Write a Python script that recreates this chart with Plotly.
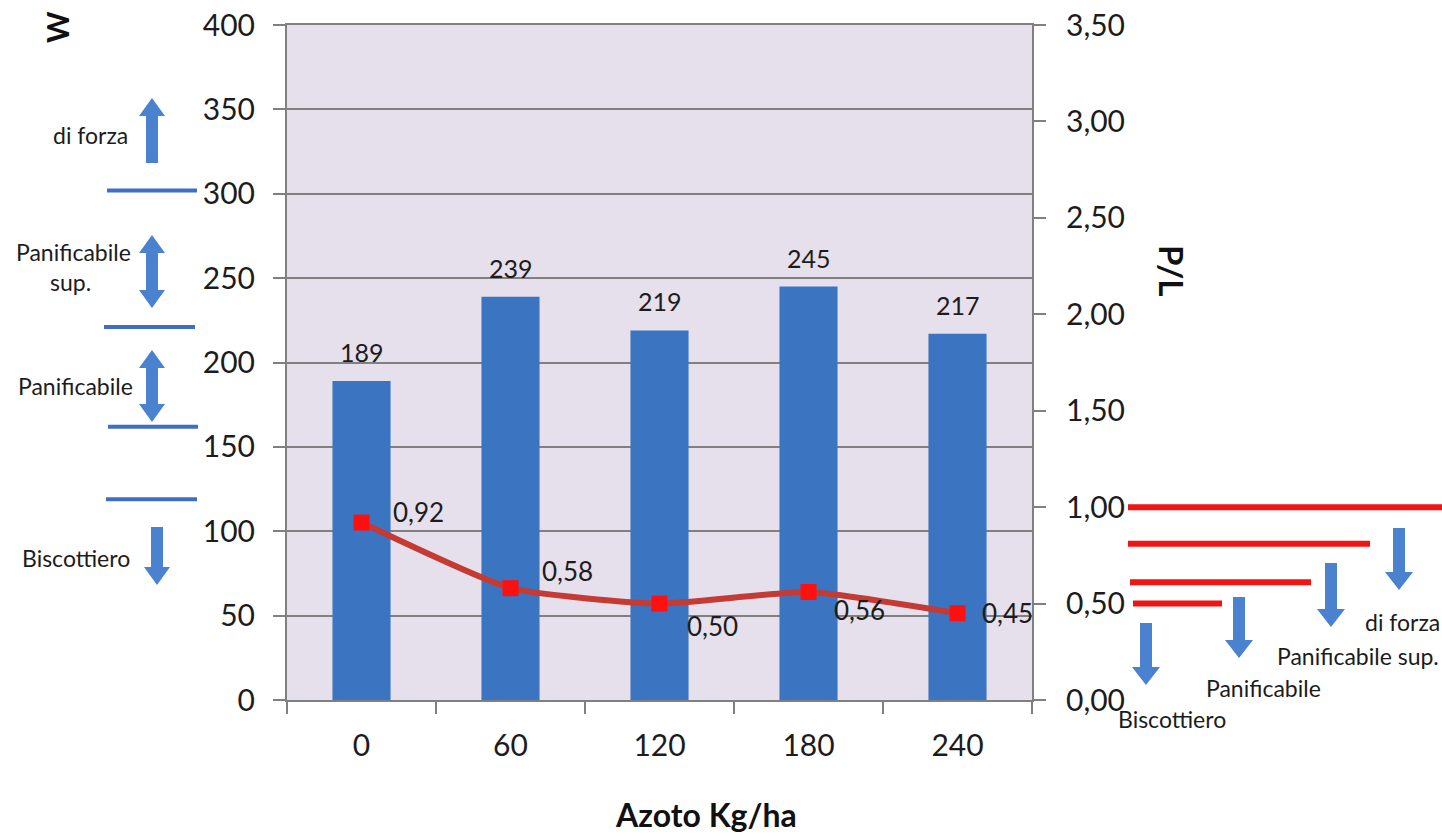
import plotly.graph_objects as go

# ---- data -------------------------------------------------------------
nitrogen = ["0", "60", "120", "180", "240"]          # Azoto Kg/ha
w_values = [189, 239, 219, 245, 217]                  # W (bars, left axis)
pl_values = [0.92, 0.58, 0.50, 0.56, 0.45]            # P/L (line, right axis)
w_ticks = [0, 50, 100, 150, 200, 250, 300, 350, 400]
pl_ticks = [0.0, 0.5, 1.0, 1.5, 2.0, 2.5, 3.0, 3.5]

# W class limits (left scale) and P/L class limits (right scale)
w_limits = [302, 221, 162, 119]
pl_limits = [1.0, 0.81, 0.61, 0.50]

# ---- styling ----------------------------------------------------------
FONT = "Lato, 'Open Sans', sans-serif"
TXT = "#1c1c1c"
AX = "#808080"
BAR = "#3B75C2"
ARROW = "#4A82D0"
LIMIT_BLUE = "#3F6EC4"
LIMIT_RED = "#F01414"

# pixel offsets of the P/L value labels from their markers
pl_dx = [57, 57, 53, 51, 50]
pl_dy = [11, 17, -22, -18, 0]

# plot-area geometry in pixels (used for the side decorations)
L, R, T, B = 287, 1032, 25, 700
PW, PH = R - L, B - T


def px(x):
    return (x - L) / PW


def py(y):
    return (B - y) / PH


def path(points):
    return "M " + " L ".join(f"{px(x):.5f},{py(y):.5f}" for x, y in points) + " Z"


def block_arrow(xc, y_from, y_to, double=False, shaft=12, head=26, hlen=18):
    s, h = shaft / 2, head / 2
    sign = 1 if y_to > y_from else -1
    neck2 = y_to - sign * hlen
    if not double:
        pts = [(xc - s, y_from), (xc - s, neck2), (xc - h, neck2), (xc, y_to),
               (xc + h, neck2), (xc + s, neck2), (xc + s, y_from)]
    else:
        neck1 = y_from + sign * hlen
        pts = [(xc, y_from), (xc + h, neck1), (xc + s, neck1), (xc + s, neck2),
               (xc + h, neck2), (xc, y_to), (xc - h, neck2), (xc - s, neck2),
               (xc - s, neck1), (xc - h, neck1)]
    return dict(type="path", xref="paper", yref="paper", path=path(pts),
                fillcolor=ARROW, line=dict(width=0), layer="above")


def paper_text(text, x, y, size, angle=0, bold=False):
    return dict(x=px(x), y=py(y), xref="paper", yref="paper",
                text=f"<b>{text}</b>" if bold else text, textangle=angle,
                xanchor="center", yanchor="middle", showarrow=False,
                font=dict(size=size, color="#111" if bold else TXT, family=FONT))


fig = go.Figure()

fig.add_trace(go.Bar(
    x=nitrogen, y=w_values, marker=dict(color=BAR, line=dict(width=0)),
    yaxis="y", hoverinfo="x+y",
))

fig.add_trace(go.Scatter(
    x=nitrogen, y=pl_values, yaxis="y2", mode="lines+markers",
    line=dict(color="#C43A35", width=6, shape="spline", smoothing=0.5),
    marker=dict(color="#FF1010", size=16, symbol="square"),
))

annotations = []

# bar value labels (category index as x position)
for i, v in enumerate(w_values):
    annotations.append(dict(
        x=i, y=v, xref="x", yref="y", text=str(v), showarrow=False,
        xanchor="center", yanchor="bottom", yshift=12,
        font=dict(size=25, color=TXT, family=FONT),
    ))

# P/L value labels
for i, (v, dx, dy) in enumerate(zip(pl_values, pl_dx, pl_dy)):
    annotations.append(dict(
        x=i, y=v, xref="x", yref="y2", text=f"{v:.2f}".replace(".", ","),
        showarrow=False, xanchor="center", yanchor="middle", xshift=dx, yshift=dy,
        font=dict(size=26, color=TXT, family=FONT),
    ))

# axis titles
annotations += [
    paper_text("W", 57, 27, 30, angle=-90, bold=True),
    paper_text("P/L", 1172, 270, 33, angle=90, bold=True),
    paper_text("Azoto Kg/ha", 706, 815, 32, bold=True),
]

# class names beside the W scale
left_labels = [("di forza", 90, 135), ("Panificabile", 73, 252), ("sup.", 70, 282),
               ("Panificabile", 75, 386), ("Biscottiero", 76, 558)]
for text, x, y in left_labels:
    annotations.append(paper_text(text, x, y, 23))

# class names beside the P/L scale
right_labels = [("di forza", 1402, 622), ("Panificabile sup.", 1358, 656),
                ("Panificabile", 1263, 688), ("Biscottiero", 1172, 719)]
for text, x, y in right_labels:
    annotations.append(paper_text(text, x, y, 23))

shapes = []

# W class limits: short blue bars left of the axis
left_spans = [(107, 197), (104, 195), (108, 198), (106, 197)]
for lim, (x0, x1) in zip(w_limits, left_spans):
    shapes.append(dict(type="line", xref="paper", yref="y", x0=px(x0), x1=px(x1),
                       y0=lim, y1=lim, line=dict(color=LIMIT_BLUE, width=4)))

# P/L class limits: red bars right of the axis
right_spans = [(1128, 1442), (1128, 1370), (1130, 1311), (1133, 1222)]
for lim, (x0, x1) in zip(pl_limits, right_spans):
    shapes.append(dict(type="line", xref="paper", yref="y2", x0=px(x0), x1=px(x1),
                       y0=lim, y1=lim, line=dict(color=LIMIT_RED, width=6)))

# block arrows
shapes += [
    block_arrow(152, 163, 98),
    block_arrow(152, 235, 308, double=True),
    block_arrow(152, 350, 422, double=True),
    block_arrow(157, 527, 585),
    block_arrow(1146, 623, 685, head=28),
    block_arrow(1239, 597, 658, head=28),
    block_arrow(1331, 563, 627, head=28),
    block_arrow(1399, 528, 590, head=28),
]

tickfont = dict(size=30, color=TXT, family=FONT)

fig.update_layout(
    width=1442, height=837,
    margin=dict(l=L, r=1442 - R, t=T, b=837 - B, autoexpand=False),
    paper_bgcolor="white", plot_bgcolor="#E6E0EC",
    separators=", ", showlegend=False, bargap=0.61,
    font=dict(family=FONT, color=TXT),
    xaxis=dict(type="category", range=[-0.5, len(nitrogen) - 0.5], automargin=False,
               tickson="boundaries", ticks="outside", ticklen=12,
               tickwidth=2, tickcolor=AX, showline=True, linecolor=AX, linewidth=2,
               mirror=True, showgrid=False, tickfont=tickfont, tickangle=0,
               ticklabelstandoff=18),
    yaxis=dict(range=[0, 400], tickvals=w_ticks, showgrid=True, gridcolor=AX, gridwidth=2,
               showline=True, linecolor=AX, linewidth=2, ticks="outside", ticklen=12,
               tickwidth=2, tickcolor=AX, zeroline=False, tickfont=tickfont,
               ticklabelstandoff=12, automargin=False),
    yaxis2=dict(range=[0, 3.5], tickvals=pl_ticks, tickformat=".2f", overlaying="y",
                side="right", showgrid=False, showline=True, linecolor=AX, linewidth=2,
                ticks="outside", ticklen=12, tickwidth=2, tickcolor=AX, zeroline=False,
                tickfont=tickfont, ticklabelstandoff=14, automargin=False),
    annotations=annotations,
    shapes=shapes,
)

fig.write_html("out.html")
